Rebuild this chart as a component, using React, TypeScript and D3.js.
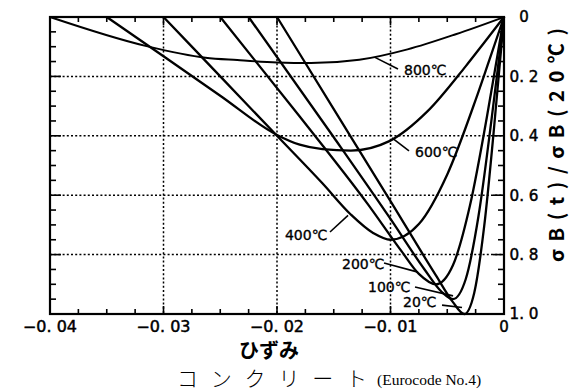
import React from "react";
import * as d3 from "d3";

const W = 569;
const H = 392;

// Strain (compression negative) against normalised strength σB(t)/σB(20℃)
const curve20: [number, number][] = [
  [0, 0], [-0.00044, 0.187], [-0.000875, 0.372], [-0.00175, 0.706], [-0.002625, 0.929], [-0.0035, 1.0],
  [-0.0045, 0.96], [-0.006, 0.87], [-0.01, 0.62], [-0.015, 0.31], [-0.02, 0],
];
const curve100: [number, number][] = [
  [0, 0], [-0.00056, 0.178], [-0.001125, 0.353], [-0.00225, 0.671], [-0.003375, 0.883], [-0.0045, 0.95],
  [-0.0055, 0.925], [-0.007, 0.85], [-0.01, 0.68], [-0.015, 0.405], [-0.0225, 0],
];
const curve200: [number, number][] = [
  [0, 0], [-0.00075, 0.168], [-0.0015, 0.335], [-0.003, 0.635], [-0.0045, 0.836], [-0.006, 0.9],
  [-0.0075, 0.865], [-0.009, 0.79], [-0.012, 0.63], [-0.018, 0.335], [-0.025, 0],
];
const curve400: [number, number][] = [
  [0, 0], [-0.00125, 0.14], [-0.0025, 0.279], [-0.005, 0.53], [-0.0075, 0.697], [-0.01, 0.75],
  [-0.0115, 0.728], [-0.0135, 0.665], [-0.016, 0.56], [-0.02, 0.4], [-0.025, 0.2], [-0.03, 0],
];
const curve600: [number, number][] = [
  [0, 0], [-0.0017, 0.084], [-0.0034, 0.167], [-0.00675, 0.318], [-0.0101, 0.418], [-0.0135, 0.45],
  [-0.016, 0.445], [-0.018, 0.43], [-0.02, 0.397], [-0.025, 0.265], [-0.03, 0.132], [-0.035, 0],
];
const curve800: [number, number][] = [
  [0, 0], [-0.00425, 0.058], [-0.0085, 0.109], [-0.01275, 0.144], [-0.017, 0.155],
  [-0.02, 0.153], [-0.0235, 0.145], [-0.0263, 0.137], [-0.0315, 0.098], [-0.04, 0],
];

const temperatureLabels = ["20℃", "100℃", "200℃", "400℃", "600℃", "800℃"];
const curves = [curve20, curve100, curve200, curve400, curve600, curve800];

const xTickValues = [-0.04, -0.03, -0.02, -0.01, 0];
const xTickLabels = ["−0. 04", "−0. 03", "−0. 02", "−0. 01", "0"];
const yTickValues = [0, 0.2, 0.4, 0.6, 0.8, 1.0];
const yTickLabels = ["0", "0. 2", "0. 4", "0. 6", "0. 8", "1. 0"];

// Label placement (data coordinates): text start, leader from, leader to
const labelLayout = [
  { text: [-0.0089, 0.976], from: [-0.00546, 0.97], to: [-0.0037, 0.978] },
  { text: [-0.01198, 0.926], from: [-0.00784, 0.909], to: [-0.00449, 0.939] },
  { text: [-0.01427, 0.848], from: [-0.01057, 0.828], to: [-0.00758, 0.859] },
  { text: [-0.0193, 0.751], from: [-0.01533, 0.724], to: [-0.01374, 0.668] },
  { text: [-0.00784, 0.471], from: [-0.00987, 0.407], to: [-0.00837, 0.451] },
  { text: [-0.00881, 0.195], from: [-0.01137, 0.136], to: [-0.00934, 0.175] },
];

const x = d3.scaleLinear().domain([-0.04, 0]).range([50, 504]);
const y = d3.scaleLinear().domain([0, 1]).range([17, 314]);

const line = d3
  .line<[number, number]>()
  .x((d) => x(d[0]))
  .y((d) => y(d[1]))
  .curve(d3.curveMonotoneX);

const tickFont = "DejaVu Sans, sans-serif";

export default function App() {
  const [x0, x1] = x.range();
  const [y0, y1] = y.range();
  const minorX = d3.range(-0.04, 0.0001, 0.0025);
  const minorY = d3.range(0, 1.0001, 0.05);

  return (
    <svg
      width={W}
      height={H}
      viewBox={`0 0 ${W} ${H}`}
      style={{ position: "absolute", left: 0, top: 0, background: "#fff" }}
    >
      <rect x={0} y={0} width={W} height={H} fill="#fff" />

      {/* dotted grid */}
      <g stroke="#000" strokeWidth={1.5} strokeDasharray="2 2.2">
        {xTickValues.slice(1, -1).map((v) => (
          <line key={`gx${v}`} x1={x(v)} x2={x(v)} y1={y0} y2={y1} />
        ))}
        {yTickValues.slice(1, -1).map((v) => (
          <line key={`gy${v}`} x1={x0} x2={x1} y1={y(v)} y2={y(v)} />
        ))}
      </g>

      {/* inward ticks on all four sides */}
      <g stroke="#000" strokeWidth={1.6}>
        {minorX.map((v, i) => {
          const len = i % 4 === 0 ? 8 : 5;
          return (
            <g key={`tx${i}`}>
              <line x1={x(v)} x2={x(v)} y1={y0} y2={y0 + len} />
              <line x1={x(v)} x2={x(v)} y1={y1} y2={y1 - len} />
            </g>
          );
        })}
        {minorY.map((v, i) => {
          const len = i % 4 === 0 ? 11 : 6;
          return (
            <g key={`ty${i}`}>
              <line x1={x0} x2={x0 + len} y1={y(v)} y2={y(v)} />
              <line x1={x1} x2={x1 - len} y1={y(v)} y2={y(v)} />
            </g>
          );
        })}
      </g>

      {/* stress-strain curves */}
      <g fill="none" stroke="#000" strokeLinejoin="round">
        {curves.map((c, i) => {
          const sorted = [...c].sort((a, b) => a[0] - b[0]);
          return (
            <path
              key={temperatureLabels[i]}
              d={line(sorted) || ""}
              strokeWidth={i === curves.length - 1 ? 1.9 : 2.3}
            />
          );
        })}
      </g>

      {/* curve labels with leaders */}
      <g>
        {labelLayout.map((l, i) => (
          <g key={`lab${i}`}>
            <line
              x1={x(l.from[0])}
              y1={y(l.from[1])}
              x2={x(l.to[0])}
              y2={y(l.to[1])}
              stroke="#000"
              strokeWidth={1.6}
            />
            <text
              x={x(l.text[0])}
              y={y(l.text[1])}
              fontFamily={tickFont}
              fontSize={14}
              stroke="#000"
              strokeWidth={0.35}
              fill="#000"
            >
              {temperatureLabels[i]}
            </text>
          </g>
        ))}
      </g>

      {/* frame */}
      <rect x={x0} y={y0} width={x1 - x0} height={y1 - y0} fill="none" stroke="#000" strokeWidth={2.2} />

      {/* x tick labels */}
      {xTickValues.map((v, i) => (
        <text
          key={`xl${v}`}
          x={x(v)}
          y={332}
          textAnchor="middle"
          fontFamily={tickFont}
          fontSize={15}
          stroke="#000"
          strokeWidth={0.45}
          fill="#000"
          textLength={xTickLabels[i].length > 1 ? 54 : undefined}
          lengthAdjust="spacingAndGlyphs"
        >
          {xTickLabels[i]}
        </text>
      ))}

      {/* right-side y tick labels */}
      {yTickValues.map((v, i) => (
        <text
          key={`yl${v}`}
          x={524}
          y={y(v)}
          dy="0.36em"
          textAnchor="middle"
          fontFamily={tickFont}
          fontSize={15}
          stroke="#000"
          strokeWidth={0.45}
          fill="#000"
          textLength={yTickLabels[i].length > 1 ? 29 : undefined}
          lengthAdjust="spacingAndGlyphs"
        >
          {yTickLabels[i]}
        </text>
      ))}

      {/* axis titles */}
      <text
        x={269}
        y={358}
        textAnchor="middle"
        fontFamily="Noto Sans CJK JP, sans-serif"
        fontWeight={700}
        fontSize={20}
        fill="#000"
      >
        ひずみ
      </text>
      <text
        transform="translate(564,145) rotate(-90)"
        textAnchor="middle"
        fontFamily="Noto Sans CJK JP, sans-serif"
        fontWeight={600}
        fontSize={20}
        textLength={234}
        lengthAdjust="spacing"
        fill="#000"
      >
        σB(t)/σB(20℃)
      </text>

      {/* caption */}
      <text
        x={177}
        y={386}
        fontFamily="Noto Sans CJK JP, sans-serif"
        fontWeight={300}
        fontSize={21}
        textLength={190}
        lengthAdjust="spacing"
        fill="#000"
      >
        コンクリート
      </text>
      <text x={377} y={385} fontFamily="Liberation Serif, serif" fontSize={15.5} fill="#000">
        (Eurocode No.4)
      </text>
    </svg>
  );
}
